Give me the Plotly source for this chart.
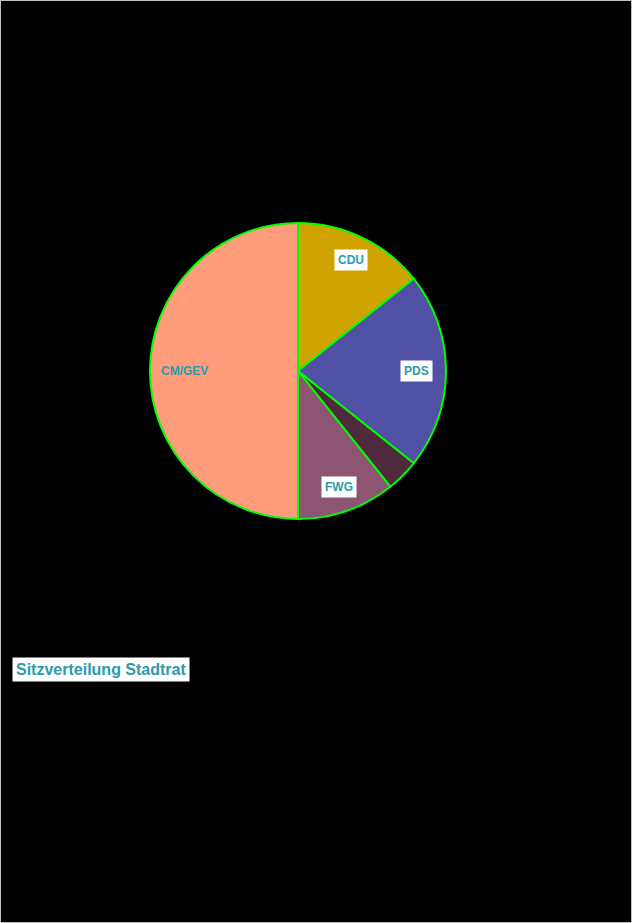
import math
import plotly.graph_objects as go

# Data
parties = ["CDU", "PDS", "", "FWG", "CM/GEV"]
seats = [4, 6, 1, 3, 14]
colors = ["#D0A400", "#5050A4", "#4E2A3C", "#8C5672", "#FF9C7C"]
label_bg = ["#FFFFFF", "#FFFFFF", None, "#FFFFFF", "rgba(0,0,0,0)"]
title_text = "Sitzverteilung Stadtrat"

W, H = 632, 923
cx, cy, R = 298, 371, 148

fig = go.Figure(go.Pie(
    labels=[p if p else " " for p in parties],
    values=seats,
    sort=False,
    direction="clockwise",
    rotation=0,
    textinfo="none",
    hoverinfo="label+value",
    marker=dict(colors=colors, line=dict(color="#00FF00", width=2)),
    domain=dict(x=[(cx - R) / W, (cx + R) / W], y=[(H - cy - R) / H, (H - cy + R) / H]),
    showlegend=False,
))

total = sum(seats)
cum = 0
annotations = []
for name, v, bg in zip(parties, seats, label_bg):
    mid = (cum + v / 2) / total * 2 * math.pi
    cum += v
    if not name:
        continue
    half_w = len(name) * 8 / 2 + 4
    r = 0.85 * R - 0.45 * half_w * abs(math.sin(mid))
    px = cx + r * math.sin(mid)
    py = cy - r * math.cos(mid)
    annotations.append(dict(
        x=px / W, y=1 - py / H, xref="paper", yref="paper",
        text="<b>" + name + "</b>", showarrow=False,
        font=dict(family="Arial, Liberation Sans, sans-serif", size=12, color="#2E9AAA"),
        bgcolor=bg, borderpad=3,
        xanchor="center", yanchor="middle",
    ))

annotations.append(dict(
    x=12 / W, y=1 - 669 / H, xref="paper", yref="paper",
    text="<b>" + title_text + "</b>", showarrow=False,
    font=dict(family="Arial, Liberation Sans, sans-serif", size=16, color="#2E9AAA"),
    bgcolor="#FFFFFF", borderpad=3,
    xanchor="left", yanchor="middle",
))

fig.update_layout(
    width=W, height=H,
    margin=dict(l=0, r=0, t=0, b=0),
    paper_bgcolor="#000000",
    plot_bgcolor="#000000",
    annotations=annotations,
    shapes=[dict(type="rect", xref="paper", yref="paper", x0=0, x1=1, y0=0, y1=1,
                 line=dict(color="#C0C0C0", width=2), layer="above")],
)

fig.write_html("out.html")
